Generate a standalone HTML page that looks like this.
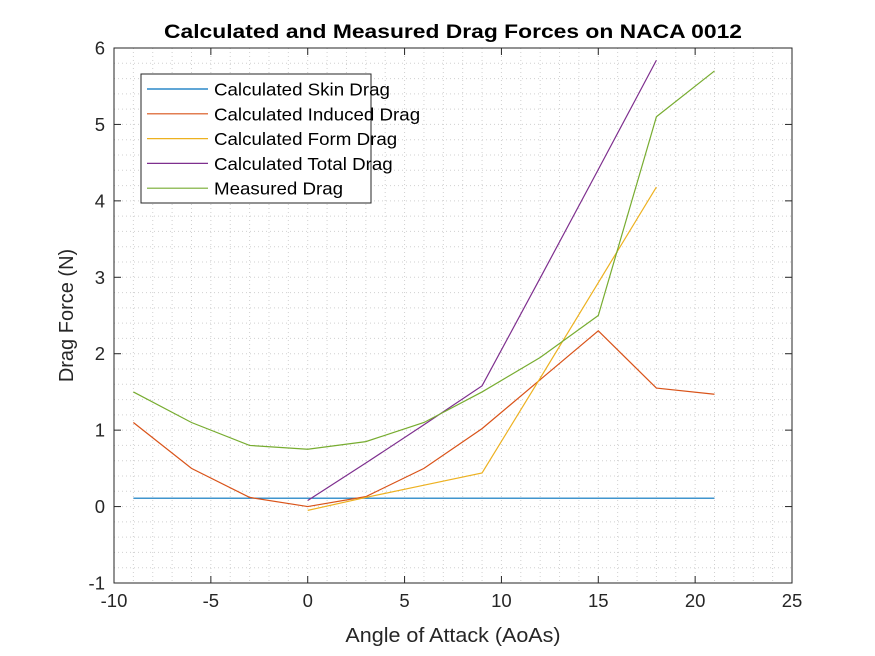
<!DOCTYPE html>
<html><head><meta charset="utf-8"><style>body{margin:0;background:#fff}svg{display:block;font-family:"Liberation Sans",Arial,sans-serif}</style></head>
<body>
<svg id="chart" width="875" height="656" viewBox="0 0 875 656" xmlns="http://www.w3.org/2000/svg"></svg>
<script>
const skinX=[-9,-6,-3,0,3,6,9,12,15,18,21];
const skinY=[0.11,0.11,0.11,0.11,0.11,0.11,0.11,0.11,0.11,0.11,0.11];
const inducedX=[-9,-6,-3,0,3,6,9,12,15,18,21];
const inducedY=[1.1,0.5,0.12,0.0,0.13,0.5,1.02,1.66,2.3,1.55,1.47];
const formX=[0,3,6,9,12,15,18];
const formY=[-0.05,0.12,0.28,0.44,1.68,2.93,4.18];
const totalX=[0,3,6,9,12,15,18];
const totalY=[0.08,0.57,1.07,1.58,2.99,4.41,5.84];
const measX=[-9,-6,-3,0,3,6,9,12,15,18,21];
const measY=[1.5,1.1,0.8,0.75,0.85,1.1,1.5,1.95,2.5,5.1,5.7];
const xTicks=[-10,-5,0,5,10,15,20,25];
const yTicks=[-1,0,1,2,3,4,5,6];
const names=["Calculated Skin Drag","Calculated Induced Drag","Calculated Form Drag","Calculated Total Drag","Measured Drag"];
const colors=["#0072BD","#D95319","#EDB120","#7E2F8E","#77AC30"];

const L=114,R=792,T=48,B=583;
const sx=v=>L+(v+10)/35*(R-L);
const sy=v=>B-(v+1)/7*(B-T);
const svg=document.getElementById('chart');
const NS="http://www.w3.org/2000/svg";
function mk(tag,attrs,parent){const e=document.createElementNS(NS,tag);for(const k in attrs)e.setAttribute(k,attrs[k]);(parent||svg).appendChild(e);return e;}
function stretch(t,f){const w=t.getComputedTextLength();if(w>0){t.setAttribute('textLength',w*f);t.setAttribute('lengthAdjust','spacingAndGlyphs');}}

const bg=mk('rect',{x:L,y:T,width:R-L,height:B-T,fill:'#fff'});


const grid=mk('g',{stroke:'#d0d0d0','stroke-width':1,'stroke-dasharray':'1,3'});


for(let v=-10;v<=25;v+=1){mk('line',{x1:sx(v),x2:sx(v),y1:T,y2:B},grid);}
for(let i=-5;i<=30;i++){const v=i*0.2;mk('line',{x1:L,x2:R,y1:sy(v),y2:sy(v)},grid);}

const ax=mk('g',{});


mk('rect',{x:L,y:T,width:R-L,height:B-T,fill:'none',stroke:'#262626','stroke-width':1},ax);
xTicks.forEach(v=>{
 mk('line',{x1:sx(v),x2:sx(v),y1:B,y2:B-7,stroke:'#262626'},ax);
 mk('line',{x1:sx(v),x2:sx(v),y1:T,y2:T+7,stroke:'#262626'},ax);
 const t=mk('text',{x:sx(v),y:B+24,'text-anchor':'middle','font-size':18.5,fill:'#262626'},ax);t.textContent=v;
 
 
});
yTicks.forEach(v=>{
 mk('line',{x1:L,x2:L+7,y1:sy(v),y2:sy(v),stroke:'#262626'},ax);
 mk('line',{x1:R,x2:R-7,y1:sy(v),y2:sy(v),stroke:'#262626'},ax);
 const t=mk('text',{x:L-9,y:sy(v)+6.5,'text-anchor':'end','font-size':18.5,fill:'#262626'},ax);t.textContent=v;
 
 
});
const xt=mk('text',{x:(L+R)/2,y:642,'text-anchor':'middle','font-size':20,fill:'#262626'});xt.textContent='Angle of Attack (AoAs)';


stretch(xt,1.075);
const yt=mk('text',{x:0,y:0,'text-anchor':'middle','font-size':20,fill:'#262626',transform:`translate(73,${(T+B)/2}) rotate(-90)`});yt.textContent='Drag Force (N)';


const tt=mk('text',{x:(L+R)/2,y:38,'text-anchor':'middle','font-size':19.5,'font-weight':'bold',fill:'#000'});tt.textContent='Calculated and Measured Drag Forces on NACA 0012';


{const w=tt.getComputedTextLength();if(w>0){tt.setAttribute('textLength',578);tt.setAttribute('lengthAdjust','spacingAndGlyphs');}}

const series=[[skinX,skinY],[inducedX,inducedY],[formX,formY],[totalX,totalY],[measX,measY]];
const snames=['skin-drag-line','induced-drag-line','form-drag-line','total-drag-line','measured-drag-line'];
series.forEach((s,i)=>{
 const pts=s[0].map((x,j)=>sx(x)+','+sy(s[1][j])).join(' ');
 const p=mk('polyline',{points:pts,fill:'none',stroke:colors[i],'stroke-width':1.2});
 
 
});

const lg=mk('g',{});


mk('rect',{x:141,y:74,width:230,height:129,fill:'#fff',stroke:'#262626','stroke-width':1},lg);
names.forEach((n,i)=>{
 const y=89+i*24.8;
 mk('line',{x1:147,x2:208,y1:y,y2:y,stroke:colors[i],'stroke-width':1.2},lg);
 const t=mk('text',{x:214,y:y+6.5,'font-size':17.5,fill:'#000'},lg);t.textContent=n;
 
 
 stretch(t,1.07);
});
</script>
</body></html>
